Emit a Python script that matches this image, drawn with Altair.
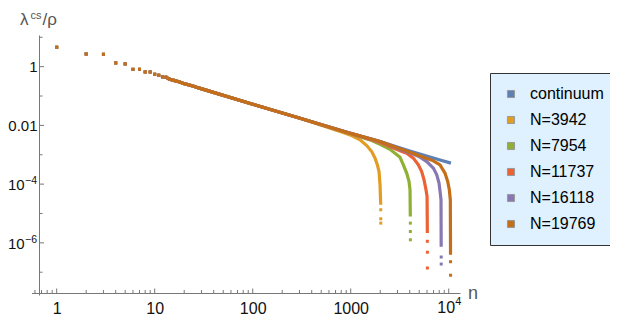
import altair as alt
import pandas as pd

# ---------------- data ----------------
series_names = ["continuum", "N=3942", "N=7954", "N=11737", "N=16118", "N=19769"]
series_colors = ["#5e81b5", "#e19c24", "#8fb032", "#eb6235", "#8778b3", "#c56e1a"]

# discrete low-n points, common to all series
low_n = [1, 2, 3, 4, 5, 6, 7, 8, 9, 10, 11, 12, 13]
low_y = [4.57, 2.70, 2.63, 1.34, 1.24, 0.81, 0.81, 0.66, 0.66, 0.55, 0.51, 0.447, 0.437]

# dense part shared by every series
shared_n = [13, 14, 16, 18, 20, 25, 28, 100, 304]
shared_y = [0.437, 0.38, 0.334, 0.30, 0.264, 0.215, 0.189, 0.0526, 0.0176]

# dense continuation of each series
cont_n = [1000, 1995, 4000, 8150, 10540]
cont_y = [0.00535, 0.00282, 0.00134, 0.000662, 0.000518]

n3942_n = [780, 984, 1245, 1456, 1637, 1770, 1871, 1945, 1991, 2023]
n3942_y = [0.00615, 0.00475, 0.00321, 0.00206, 0.00129, 0.000766, 0.000453, 0.000269, 9.46e-5, 1.98e-5]

n7954_n = [1000, 1574, 1991, 2518, 3184, 3443, 3724, 3936, 4027, 4055]
n7954_y = [0.0052, 0.00321, 0.00226, 0.00153, 0.000816, 0.000453, 0.000237, 0.000122, 6.4e-5, 7.9e-6]

n11737_n = [1000, 1995, 3184, 3724, 4355, 4898, 5297, 5598, 5861, 6012, 6050]
n11737_y = [0.00533, 0.0026, 0.00136, 0.00113, 0.000766, 0.000453, 0.000269, 0.00014, 6.4e-5, 3.8e-5, 2.15e-6]

n16118_n = [1000, 1995, 3184, 4355, 5093, 5970, 6970, 7550, 7960, 8200, 8340, 8375]
n16118_y = [0.00533, 0.0028, 0.00151, 0.00105, 0.000828, 0.000587, 0.00035, 0.000207, 0.000108, 4.94e-5, 2.92e-5, 7.4e-7]

n19769_n = [1000, 1995, 3184, 4355, 5093, 6970, 8150, 9160, 9770, 10140, 10380, 10430]
n19769_y = [0.00533, 0.00282, 0.0016, 0.0011, 0.0009, 0.00062, 0.000453, 0.000237, 0.000122, 6.4e-5, 2.92e-5, 3.94e-7]

# isolated last points at the bottom of each drop
tail_n = {
    "continuum": [],
    "N=3942": [2024, 2025, 2026],
    "N=7954": [4057, 4059, 4061],
    "N=11737": [6052, 6054, 6056],
    "N=16118": [8378, 8381],
    "N=19769": [10435, 10440],
}
tail_y = {
    "continuum": [],
    "N=3942": [1.34e-5, 6.6e-6, 4.7e-6],
    "N=7954": [4.7e-6, 2.44e-6, 1.27e-6],
    "N=11737": [1.13e-6, 4.8e-7, 1.39e-7],
    "N=16118": [3.29e-7, 1.9e-7],
    "N=19769": [2.28e-7, 7.9e-8],
}

dense_n = [cont_n, n3942_n, n7954_n, n11737_n, n16118_n, n19769_n]
dense_y = [cont_y, n3942_y, n7954_y, n11737_y, n16118_y, n19769_y]

# tick labels: plain ones via the axis, power-of-ten ones as base + exponent
x_tick_values = [1, 10, 100, 1000, 10000]
x_tick_labels = ["1", "10", "100", "1000", ""]
x_pow_values = [10000]
x_pow_base = ["10"]
x_pow_exp = ["4"]
x_minor_ticks = [0.6, 0.7, 0.8, 0.9, 2, 3, 4, 5, 6, 7, 8, 9, 20, 30, 40, 50, 60, 70, 80, 90,
                 200, 300, 400, 500, 600, 700, 800, 900, 2000, 3000, 4000, 5000, 6000, 7000, 8000, 9000]
y_tick_values = [1, 0.01, 1e-4, 1e-6]
y_tick_labels = ["1", "0.01", "", ""]
y_pow_values = [1e-4, 1e-6]
y_pow_base = ["10", "10"]
y_pow_exp = ["−4", "−6"]
y_minor_ticks = [10, 0.1, 1e-3, 1e-5, 1e-7]

# ---------------- layout ----------------
W, H = 421, 258
AXIS_COLOR = "#777777"
LABEL_COLOR = "#111111"
FONT = "Liberation Sans"


def label_expr(values, labels):
    expr = f"'{labels[-1]}'"
    for v, l in reversed(list(zip(values[:-1], labels[:-1]))):
        expr = f"abs(log(datum.value) - log({v})) < 0.1 ? '{l}' : " + expr
    return expr


x_scale = alt.Scale(type="log", domain=[0.66, 13030], nice=False)
y_scale = alt.Scale(type="log", domain=[1.96e-8, 11.97], nice=False)

x_axis = alt.Axis(values=x_tick_values, labelExpr=label_expr(x_tick_values, x_tick_labels),
                  ticks=False, tickSize=0, grid=False, domainColor=AXIS_COLOR, labelFont=FONT,
                  labelFontSize=16, labelColor=LABEL_COLOR, labelPadding=7,
                  title=None, labelFlush=False)
y_axis = alt.Axis(values=y_tick_values, labelExpr=label_expr(y_tick_values, y_tick_labels),
                  ticks=False, tickSize=0, grid=False, domainColor=AXIS_COLOR, labelFont=FONT,
                  labelFontSize=15, labelColor=LABEL_COLOR, labelPadding=2,
                  title=None)

X = alt.X("n:Q", scale=x_scale, axis=x_axis)
Y = alt.Y("y:Q", scale=y_scale, axis=y_axis)

layers = []

# dense parts drawn as thick lines, one layer per series (continuum first, N=19769 last)
for name, col, dn, dy in zip(series_names, series_colors, dense_n, dense_y):
    df = pd.DataFrame({"n": shared_n + dn, "y": shared_y + dy})
    layers.append(
        alt.Chart(df).mark_line(color=col, strokeWidth=3.2, strokeCap="butt").encode(x=X, y=Y)
    )

# discrete points (low n + drop tails) with legend
rows = []
for name in series_names:
    for n, y in zip(low_n + tail_n[name], low_y + tail_y[name]):
        rows.append({"series": name, "n": n, "y": y})
pts = pd.DataFrame(rows)

legend = alt.Legend(
    title=None, orient="none", legendX=451, legendY=38,
    fillColor="#dff0ff", strokeColor="#333333", padding=13,
    labelFont=FONT, labelFontSize=16, labelColor="#000000",
    symbolType="square", symbolSize=50, symbolStrokeColor="#999999",
    symbolStrokeWidth=1, symbolOpacity=1, rowPadding=10, labelOffset=11,
)
layers.append(
    alt.Chart(pts).mark_square(size=9, opacity=1, filled=True).encode(
        x=X, y=Y,
        color=alt.Color("series:N", scale=alt.Scale(domain=series_names, range=series_colors),
                        sort=series_names, legend=legend),
    )
)

# inward tick marks
layers.append(alt.Chart(pd.DataFrame({"n": x_tick_values})).mark_rule(color=AXIS_COLOR)
              .encode(x=X, y=alt.value(H), y2=alt.value(H - 4.5)))
layers.append(alt.Chart(pd.DataFrame({"n": x_minor_ticks})).mark_rule(color=AXIS_COLOR)
              .encode(x=X, y=alt.value(H), y2=alt.value(H - 3)))
layers.append(alt.Chart(pd.DataFrame({"y": y_tick_values})).mark_rule(color=AXIS_COLOR)
              .encode(y=Y, x=alt.value(0), x2=alt.value(5)))
layers.append(alt.Chart(pd.DataFrame({"y": y_minor_ticks})).mark_rule(color=AXIS_COLOR)
              .encode(y=Y, x=alt.value(0), x2=alt.value(3.5)))

# small axis overhangs (x axis continues left of the y axis, y axis a bit below)
one = pd.DataFrame({"k": [0]})
layers.append(alt.Chart(one).mark_rule(color=AXIS_COLOR)
              .encode(x=alt.value(-7), x2=alt.value(0), y=alt.value(H + 0.5)))
layers.append(alt.Chart(one).mark_rule(color=AXIS_COLOR)
              .encode(x=alt.value(0.5), y=alt.value(H), y2=alt.value(H + 2.5)))

# power-of-ten tick labels (base + raised exponent)
xp = pd.DataFrame({"n": x_pow_values, "b": x_pow_base, "e": x_pow_exp})
layers.append(alt.Chart(xp).mark_text(align="center", baseline="middle", font=FONT, fontSize=16,
                                      color=LABEL_COLOR, dx=-2.5)
              .encode(x=X, y=alt.value(H + 14.5), text="b:N"))
layers.append(alt.Chart(xp).mark_text(align="left", baseline="middle", font=FONT, fontSize=11,
                                      color=LABEL_COLOR, dx=6.5)
              .encode(x=X, y=alt.value(H + 8.5), text="e:N"))
yp = pd.DataFrame({"y": y_pow_values, "b": y_pow_base, "e": y_pow_exp})
layers.append(alt.Chart(yp).mark_text(align="right", baseline="middle", font=FONT, fontSize=15,
                                      color=LABEL_COLOR, dy=1)
              .encode(y=Y, x=alt.value(-14.3), text="b:N"))
layers.append(alt.Chart(yp).mark_text(align="left", baseline="middle", font=FONT, fontSize=10.5,
                                      color=LABEL_COLOR, dy=-3)
              .encode(y=Y, x=alt.value(-14), text="e:N"))

# axis titles
def txt(s, x, y, size, align="left"):
    return alt.Chart(pd.DataFrame({"t": [s]})).mark_text(
        align=align, baseline="alphabetic", font=FONT, fontSize=size, color="#555555"
    ).encode(text="t:N", x=alt.value(x), y=alt.value(y))

layers.append(txt("λ", -19, -10, 17))
layers.append(txt("cs", -8.5, -16.5, 11))
layers.append(txt("/ρ", 3.5, -10, 17))
layers.append(txt("n", 434, 264, 18, align="center"))

chart = alt.layer(*layers).properties(
    width=W, height=H,
    padding={"left": 31, "top": 27, "right": 150, "bottom": 22},
    autosize=alt.AutoSizeParams(type="none"),
).configure_view(stroke=None)

chart.save("out.html", embed_options={"renderer": "svg", "actions": False})
